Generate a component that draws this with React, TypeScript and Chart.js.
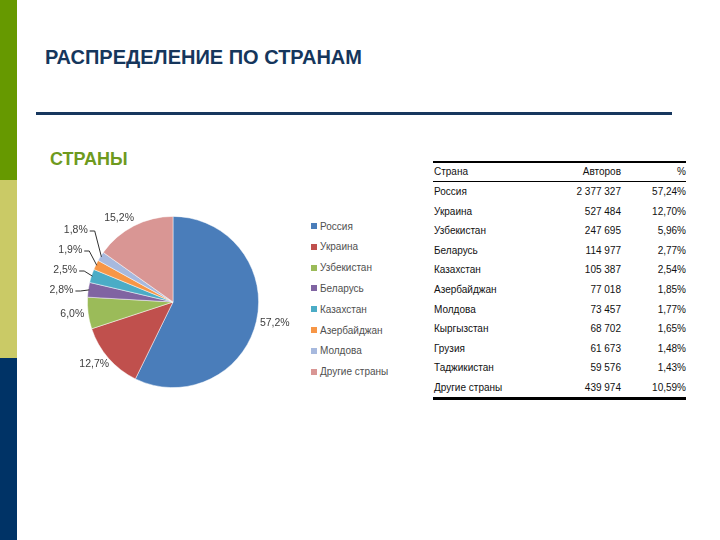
import React, { useEffect, useRef } from "react";
import { Chart, registerables } from "chart.js";

Chart.register(...registerables);

const pieCategories = ["Россия", "Украина", "Узбекистан", "Беларусь", "Казахстан", "Азербайджан", "Молдова", "Другие страны"];
const pieValues = [2377327, 527484, 247695, 114977, 105387, 77018, 73457, 629925];
const pieColors = ["#4A7DBA", "#C0504D", "#9BBB59", "#8064A2", "#4BACC6", "#F79646", "#A7B9DE", "#D99694"];

const tableHeader = ["Страна", "Авторов", "%"];
const tableCountries = ["Россия", "Украина", "Узбекистан", "Беларусь", "Казахстан", "Азербайджан", "Молдова", "Кыргызстан", "Грузия", "Таджикистан", "Другие страны"];
const tableAuthors = [2377327, 527484, 247695, 114977, 105387, 77018, 73457, 68702, 61673, 59576, 439974];
const tablePercents = [57.24, 12.7, 5.96, 2.77, 2.54, 1.85, 1.77, 1.65, 1.48, 1.43, 10.59];

const titleText = "РАСПРЕДЕЛЕНИЕ ПО СТРАНАМ";
const subtitleText = "СТРАНЫ";

const fmtInt = (n: number) => String(n).replace(/\B(?=(\d{3})+(?!\d))/g, " ");
const fmtPct = (n: number, d: number) => n.toFixed(d).replace(".", ",") + "%";

const labelPlugin = {
  id: "pieLabels",
  afterDatasetsDraw(chart: any) {
    const ctx = chart.ctx;
    const meta = chart.getDatasetMeta(0);
    const data = chart.data.datasets[0].data as number[];
    const total = data.reduce((a, b) => a + b, 0);
    ctx.save();
    ctx.font = '10.5px "Liberation Sans", Arial, sans-serif';
    ctx.fillStyle = "#404040";
    ctx.textBaseline = "middle";
    let prevSmallY: number | null = null;
    meta.data.forEach((arc: any, i: number) => {
      const pct = (data[i] / total) * 100;
      const text = fmtPct(pct, 1);
      const a = (arc.startAngle + arc.endAngle) / 2;
      const r = arc.outerRadius;
      const cx = arc.x, cy = arc.y;
      const c = Math.cos(a), s = Math.sin(a);
      const w = ctx.measureText(text).width;
      const h = 10;
      if (pct < 3) {
        const ax = cx + (r + 14) * c;
        let ly = cy + (r + 12) * s + 2.5;
        if (prevSmallY !== null) ly = Math.min(ly, prevSmallY - 20);
        prevSmallY = ly;
        const right = ax - 1;
        ctx.textAlign = "right";
        ctx.fillText(text, right, ly);
        ctx.beginPath();
        ctx.strokeStyle = "#303030";
        ctx.lineWidth = 1;
        ctx.moveTo(right + 2, ly + 0.5);
        ctx.lineTo(right + 7, ly + 0.5);
        ctx.lineTo(cx + (r - 1) * c, cy + (r - 1) * s);
        ctx.stroke();
      } else {
        const ax = cx + (r + 4) * c;
        const ay = cy + (r + 4) * s;
        const mx = ax + c * (w / 2) - (s < -0.8 ? 6 : 0);
        const my = ay + s * (h / 2);
        ctx.textAlign = "center";
        ctx.fillText(text, mx, my);
      }
    });
    ctx.restore();
  },
};

function PieChart() {
  const ref = useRef<HTMLCanvasElement | null>(null);
  useEffect(() => {
    if (!ref.current) return;
    const chart = new Chart(ref.current, {
      type: "pie",
      data: {
        labels: pieCategories,
        datasets: [
          {
            data: pieValues,
            backgroundColor: pieColors,
            borderColor: "rgba(255,255,255,0.6)",
            borderWidth: 0.8,
          },
        ],
      },
      options: {
        responsive: false,
        animation: false,
        layout: { padding: { left: 47, right: 41, top: 16, bottom: 12 } },
        plugins: { legend: { display: false }, tooltip: { enabled: false } },
      },
      plugins: [labelPlugin],
    } as any);
    return () => chart.destroy();
  }, []);
  return <canvas ref={ref} width={260} height={200} style={{ width: 260, height: 200, display: "block" }} />;
}

export default function App() {
  const font = '"Liberation Sans", Arial, sans-serif';
  const rowY0 = 192;
  const rowStep = 19.6;
  return (
    <div style={{ position: "absolute", left: 0, top: 0, width: 720, height: 540, background: "#fff", fontFamily: font, overflow: "hidden" }}>
      <div style={{ position: "absolute", left: 0, top: 0, width: 17, height: 180, background: "#669900" }} />
      <div style={{ position: "absolute", left: 0, top: 180, width: 17, height: 178, background: "#CACA66" }} />
      <div style={{ position: "absolute", left: 0, top: 358, width: 17, height: 182, background: "#003366" }} />

      <div style={{ position: "absolute", left: 45, top: 45, fontSize: 20, fontWeight: "bold", color: "#15365C", lineHeight: "24px", whiteSpace: "nowrap" }}>{titleText}</div>
      <div style={{ position: "absolute", left: 36, top: 112, width: 636, height: 3, background: "#17375E" }} />
      <div style={{ position: "absolute", left: 50, top: 148, fontSize: 18, fontWeight: "bold", color: "#6E9A1E", lineHeight: "22px" }}>{subtitleText}</div>

      <div style={{ position: "absolute", left: 40, top: 200 }}>
        <PieChart />
      </div>

      {pieCategories.map((c, i) => (
        <div key={c} style={{ position: "absolute", left: 311, top: 226 + i * 20.8 - 6, height: 12, display: "flex", alignItems: "center", fontSize: 10, color: "#505050", whiteSpace: "nowrap" }}>
          <span style={{ display: "inline-block", width: 6, height: 6, background: pieColors[i], marginRight: 3 }} />
          {c}
        </div>
      ))}

      <div style={{ position: "absolute", left: 433, top: 161, width: 253, height: 2, background: "#000" }} />
      <div style={{ position: "absolute", left: 433, top: 181, width: 253, height: 1, background: "#000" }} />
      <div style={{ position: "absolute", left: 433, top: 397, width: 253, height: 2.5, background: "#000" }} />
      {[tableHeader].concat(tableCountries.map((c, i) => [c, fmtInt(tableAuthors[i]), fmtPct(tablePercents[i], 2)])).map((row, r) => {
        const y = r === 0 ? 172 : rowY0 + (r - 1) * rowStep;
        return (
          <div key={r} style={{ position: "absolute", left: 434, top: y - 6, width: 252, height: 12, fontSize: 10, lineHeight: "12px", color: "#111", whiteSpace: "nowrap" }}>
            <span style={{ position: "absolute", left: 0 }}>{row[0]}</span>
            <span style={{ position: "absolute", right: 65 }}>{row[1]}</span>
            <span style={{ position: "absolute", right: 0 }}>{row[2]}</span>
          </div>
        );
      })}
    </div>
  );
}
